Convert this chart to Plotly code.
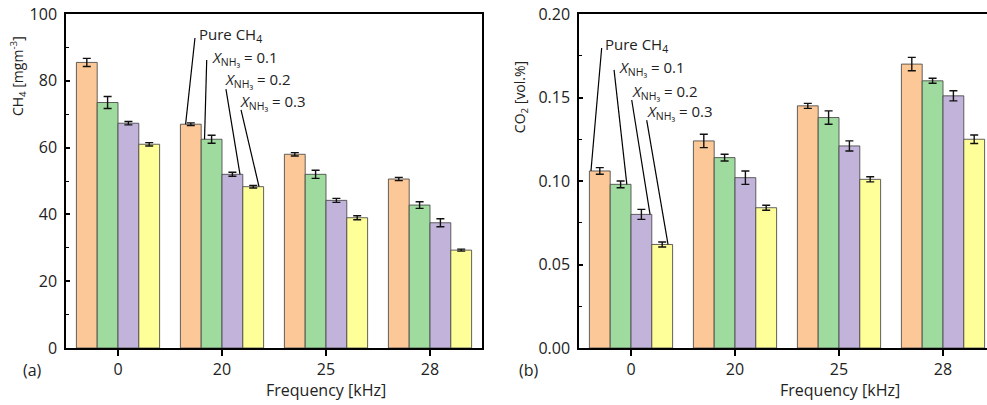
import plotly.graph_objects as go

# ---------------- data ----------------
categories = ["0", "20", "25", "28"]
series_names = ["Pure CH4", "X_NH3 = 0.1", "X_NH3 = 0.2", "X_NH3 = 0.3"]
colors = ["#FDC897", "#9FDA9F", "#C1B3D9", "#FFFF9A"]

ch4_pure = [85.5, 67.0, 58.0, 50.6]
ch4_x01 = [73.5, 62.5, 52.0, 42.8]
ch4_x02 = [67.3, 52.0, 44.2, 37.5]
ch4_x03 = [61.0, 48.3, 39.0, 29.3]
ch4_err_pure = [1.2, 0.4, 0.5, 0.5]
ch4_err_x01 = [1.8, 1.2, 1.2, 1.0]
ch4_err_x02 = [0.5, 0.6, 0.6, 1.2]
ch4_err_x03 = [0.5, 0.4, 0.6, 0.3]

co2_pure = [0.106, 0.124, 0.145, 0.170]
co2_x01 = [0.098, 0.114, 0.138, 0.160]
co2_x02 = [0.080, 0.102, 0.121, 0.151]
co2_x03 = [0.062, 0.084, 0.101, 0.125]
co2_err_pure = [0.002, 0.004, 0.0015, 0.004]
co2_err_x01 = [0.002, 0.002, 0.004, 0.0015]
co2_err_x02 = [0.003, 0.004, 0.003, 0.003]
co2_err_x03 = [0.0015, 0.0015, 0.0015, 0.0025]

ch4_series = [ch4_pure, ch4_x01, ch4_x02, ch4_x03]
ch4_errs = [ch4_err_pure, ch4_err_x01, ch4_err_x02, ch4_err_x03]
co2_series = [co2_pure, co2_x01, co2_x02, co2_x03]
co2_errs = [co2_err_pure, co2_err_x01, co2_err_x02, co2_err_x03]

label_texts = ["Pure CH<sub>4</sub>",
               "<i>X</i><sub>NH₃</sub> = 0.1",
               "<i>X</i><sub>NH₃</sub> = 0.2",
               "<i>X</i><sub>NH₃</sub> = 0.3"]

FONT = "Open Sans"
TXT = "#222"
W, H = 987, 405

fig = go.Figure()

for panel, (series, errs, xa, ya) in enumerate([
        (ch4_series, ch4_errs, "x", "y"),
        (co2_series, co2_errs, "x2", "y2")]):
    for i in range(4):
        fig.add_trace(go.Bar(
            x=categories, y=series[i], name=series_names[i],
            marker=dict(color=colors[i], line=dict(color="rgba(70,70,70,0.85)", width=1)),
            error_y=dict(type="data", array=errs[i], visible=True,
                         color="#111111", thickness=1.4, width=4),
            offsetgroup=str(i), xaxis=xa, yaxis=ya, showlegend=False))

axis_common = dict(showline=True, linecolor="black", linewidth=1.5,
                   showgrid=False, zeroline=False,
                   tickfont=dict(family=FONT, size=16, color=TXT))

fig.update_layout(
    width=W, height=H,
    margin=dict(l=0, r=0, t=14, b=57),
    paper_bgcolor="white", plot_bgcolor="white",
    barmode="group", bargap=0.2, bargroupgap=0,
    font=dict(family=FONT, size=16, color=TXT),
    xaxis=dict(domain=[66 / W, 482 / W], type="category", range=[-0.5, 3.5],
               ticks="outside", ticklen=6, tickwidth=1.5, tickcolor="black",
               mirror=True, **axis_common),
    yaxis=dict(domain=[0, 1], range=[0, 100], tickvals=[0, 20, 40, 60, 80, 100],
               ticks="inside", ticklen=4, tickwidth=1.5, tickcolor="black",
               minor=dict(tickvals=[10, 30, 50, 70, 90], ticks="inside", ticklen=3,
                          tickwidth=1.2, tickcolor="black"),
               ticklabelstandoff=4, mirror=True,
               **axis_common),
    xaxis2=dict(domain=[579 / W, 1.0], type="category", range=[-0.5, 3.5 - 8 / 104],
                anchor="y2", mirror=True,
                ticks="outside", ticklen=6, tickwidth=1.5, tickcolor="black",
                **axis_common),
    yaxis2=dict(domain=[0, 1], range=[0, 0.2], anchor="x2",
                tickvals=[0, 0.05, 0.10, 0.15, 0.20], tickformat=".2f",
                ticks="inside", ticklen=4, tickwidth=1.5, tickcolor="black",
                minor=dict(tickvals=[0.025, 0.075, 0.125, 0.175], ticks="inside", ticklen=3,
                           tickwidth=1.2, tickcolor="black"),
                ticklabelstandoff=4, mirror=False,
                **axis_common),
)

annotations = []
shapes = []

# label placement (category-index / data units) and leader line geometry
# left panel: lines go to bars of category "20" (index 1)
left_text_pos = [(0.76, 93.7), (0.885, 86.8), (1.01, 80.2), (1.154, 73.7)]
left_line_start = [(0.74, 92.8), (0.853, 86.2), (1.038, 77.5), (1.183, 71.3)]
left_line_endx = [0.65, 0.832, 1.173, 1.356]
left_cat = 1
right_text_pos = [(-0.269, 0.1814), (-0.1375, 0.1677), (-0.01, 0.1535), (0.135, 0.1415)]
right_line_start = [(-0.282, 0.1796), (-0.163, 0.1665), (0.007, 0.1485), (0.151, 0.1365)]
right_line_endx = [-0.385, -0.04, 0.183, 0.356]
right_cat = 0

ann_font = dict(family=FONT, size=15, color=TXT)
for i in range(4):
    tx, ty = left_text_pos[i]
    annotations.append(dict(x=tx, y=ty, xref="x", yref="y", text=label_texts[i],
                            showarrow=False, xanchor="left", yanchor="middle",
                            font=ann_font))
    sx, sy = left_line_start[i]
    shapes.append(dict(type="line", xref="x", yref="y", x0=sx, y0=sy,
                       x1=left_line_endx[i], y1=ch4_series[i][left_cat],
                       line=dict(color="black", width=1.2)))
    tx, ty = right_text_pos[i]
    annotations.append(dict(x=tx, y=ty, xref="x2", yref="y2", text=label_texts[i],
                            showarrow=False, xanchor="left", yanchor="middle",
                            font=ann_font))
    sx, sy = right_line_start[i]
    shapes.append(dict(type="line", xref="x2", yref="y2", x0=sx, y0=sy,
                       x1=right_line_endx[i], y1=co2_series[i][right_cat],
                       line=dict(color="black", width=1.2)))

# axis titles and panel labels
annotations += [
    dict(x=18 / W, y=0.814, xref="paper", yref="paper", text="CH<sub>4</sub> [mgm<sup>-3</sup>]",
         textangle=-90, showarrow=False, xanchor="center", yanchor="middle",
         font=dict(family=FONT, size=14, color=TXT)),
    dict(x=520 / W, y=0.751, xref="paper", yref="paper", text="CO<sub>2</sub> [vol.%]",
         textangle=-90, showarrow=False, xanchor="center", yanchor="middle",
         font=dict(family=FONT, size=14, color=TXT)),
    dict(x=326 / W, y=-0.126, xref="paper", yref="paper", text="Frequency [kHz]",
         showarrow=False, xanchor="center", yanchor="middle",
         font=dict(family=FONT, size=16, color=TXT)),
    dict(x=840 / W, y=-0.126, xref="paper", yref="paper", text="Frequency [kHz]",
         showarrow=False, xanchor="center", yanchor="middle",
         font=dict(family=FONT, size=16, color=TXT)),
    dict(x=32 / W, y=-0.066, xref="paper", yref="paper", text="(a)",
         showarrow=False, xanchor="center", yanchor="middle",
         font=dict(family=FONT, size=16, color=TXT)),
    dict(x=529 / W, y=-0.066, xref="paper", yref="paper", text="(b)",
         showarrow=False, xanchor="center", yanchor="middle",
         font=dict(family=FONT, size=16, color=TXT)),
]

fig.update_layout(annotations=annotations, shapes=shapes)
fig.write_html("out.html")
